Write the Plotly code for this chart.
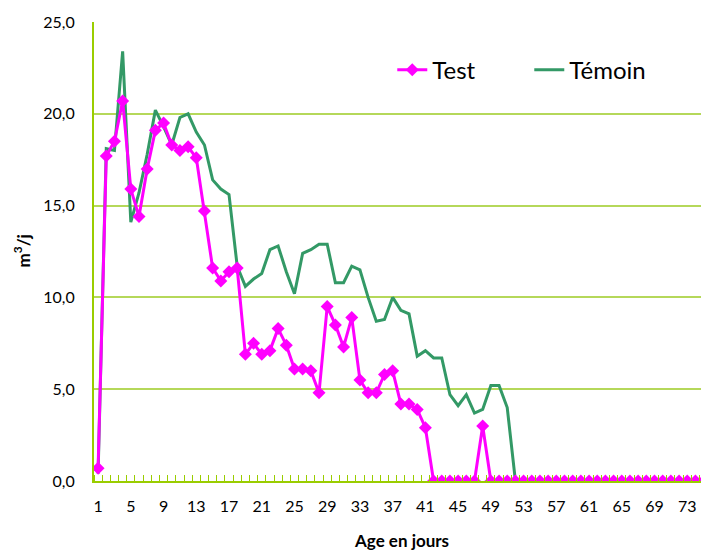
import plotly.graph_objects as go

days = list(range(1, 77))

test_vals = [0.7, 17.7, 18.5, 20.7, 15.9, 14.4, 17.0, 19.1, 19.5, 18.3,
             18.0, 18.2, 17.6, 14.7, 11.6, 10.9, 11.4, 11.6, 6.9, 7.5,
             6.9, 7.1, 8.3, 7.4, 6.1, 6.1, 6.0, 4.8, 9.5, 8.5,
             7.3, 8.9, 5.5, 4.8, 4.8, 5.8, 6.0, 4.2, 4.2, 3.9,
             2.9, 0, 0, 0, 0, 0, 0, 3.0, 0, 0] + [0] * 26

temoin_vals = [0.4, 18.1, 18.0, 23.4, 14.1, 15.7, 17.8, 20.2, 19.3, 18.3,
               19.8, 20.0, 19.0, 18.3, 16.4, 15.9, 15.6, 11.7, 10.6, 11.0,
               11.3, 12.6, 12.8, 11.4, 10.2, 12.4, 12.6, 12.9, 12.9, 10.8,
               10.8, 11.7, 11.5, 10.0, 8.7, 8.8, 10.0, 9.3, 9.1, 6.8,
               7.1, 6.7, 6.7, 4.7, 4.1, 4.7, 3.7, 3.9, 5.2, 5.2,
               4.0] + [0] * 25

x_tick_labels = [str(d) for d in range(1, 77, 4)]
y_tick_vals = [0, 5, 10, 15, 20, 25]

FONT = "Lato"
AXIS_COL = "#9ACD00"
GRID_COL = "#B5D85A"

fig = go.Figure()
fig.add_trace(go.Scatter(
    x=days, y=temoin_vals, name="Témoin", mode="lines",
    line=dict(color="#339966", width=3), legendrank=2,
))
fig.add_trace(go.Scatter(
    x=days, y=test_vals, name="Test", mode="lines+markers",
    line=dict(color="#FF00FF", width=3),
    marker=dict(symbol="diamond", size=10, color="#FF00FF"),
    legendrank=1,
))

fig.update_layout(
    width=701, height=542,
    margin=dict(l=86, r=0, t=14, b=69),
    paper_bgcolor="white", plot_bgcolor="white",
    separators=",.",
    font=dict(family=FONT, color="#000000", size=16),
    showlegend=True,
    legend=dict(
        orientation="h", x=0.485, y=0.895, xanchor="left", yanchor="middle",
        font=dict(size=24, family=FONT), bgcolor="rgba(0,0,0,0)",
        entrywidth=92,
    ),
    xaxis=dict(
        range=[0.5, 75.66],
        tickmode="array", tickvals=list(range(1, 77, 4)), ticktext=x_tick_labels,
        ticks="", showgrid=False, zeroline=False,
        showline=True, linecolor=AXIS_COL, linewidth=2,
        tickfont=dict(size=16, family=FONT),
        ticklabelstandoff=10,
        minor=dict(ticks="inside", tick0=0.5, dtick=1, ticklen=6,
                   tickcolor=AXIS_COL, tickwidth=1, showgrid=False),
    ),
    yaxis=dict(
        range=[0, 25], tickmode="array", tickvals=y_tick_vals,
        tickformat=".1f", ticks="",
        showgrid=True, gridcolor=GRID_COL, gridwidth=1.5,
        zeroline=False, showline=True, linecolor=AXIS_COL, linewidth=2,
        tickfont=dict(size=16, family=FONT),
        ticklabelstandoff=14,
    ),
    annotations=[
        dict(text="<b>Age en jours</b>", xref="paper", yref="paper",
             x=0.5, y=0, yshift=-59, showarrow=False,
             font=dict(size=17, family=FONT), xanchor="center", yanchor="middle"),
        dict(text="<b>m<sup>3</sup>/j</b>", xref="paper", yref="paper",
             x=0, y=0.5, xshift=-72, showarrow=False, textangle=-90,
             font=dict(size=17, family=FONT), xanchor="center", yanchor="middle"),
    ],
)

fig.write_html("out.html")
